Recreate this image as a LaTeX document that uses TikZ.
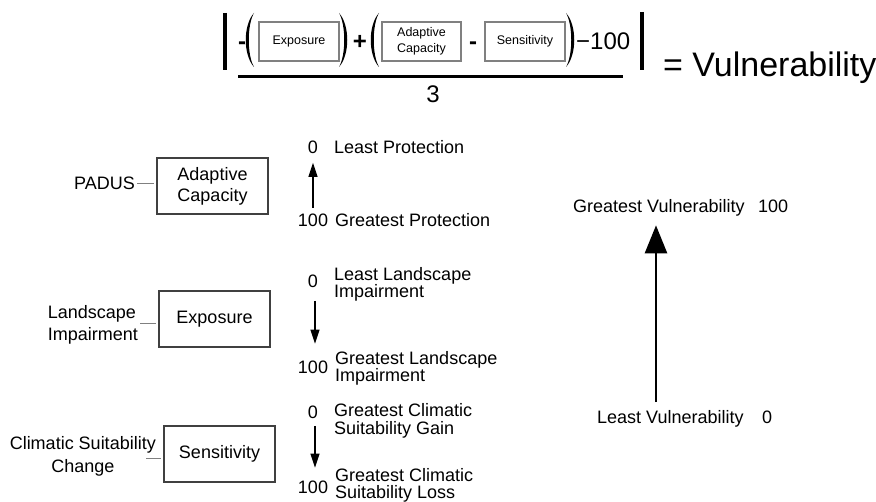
\documentclass[tikz,border=0pt]{standalone}
\usepackage{fontspec}
\setmainfont{Liberation Sans}
\usetikzlibrary{arrows.meta}
\begin{document}
\begin{tikzpicture}[x=1pt,y=-1pt,
  every node/.style={inner sep=0pt},
  lab/.style={font=\fontsize{18}{17.5}\selectfont, anchor=base west},
  num/.style={font=\fontsize{18}{17.5}\selectfont, anchor=base},
  twoline/.style={font=\fontsize{18}{17.5}\selectfont, align=left, anchor=west},
  bigbox/.style={draw=black!75, line width=1.3pt, minimum width=111pt, minimum height=56pt,
    font=\fontsize{18}{21}\selectfont, align=center},
  smallbox/.style={draw=black!50, line width=1.1pt, minimum width=80pt, minimum height=39pt,
    font=\fontsize{12.5}{16}\selectfont, align=center},
  link/.style={draw=black!50, line width=0.9pt},
  arr/.style={-{Triangle[length=14pt,width=9pt]}, line width=1.2pt},
  bigarr/.style={-{Triangle[length=28pt,width=22pt]}, line width=2.6pt},
  op/.style={font=\fontsize{24}{24}\bfseries\selectfont, anchor=base},
  paren/.style={fill=black}
]
\useasboundingbox (0,0) rectangle (876,502);

% ---------- formula ----------
\draw[line width=3.5pt] (225,13) -- (225,70);
\draw[line width=3.5pt] (642,12) -- (642,70);
\draw[line width=3pt] (238,77) -- (623,77);
\node[font=\fontsize{24}{24}\selectfont, anchor=base] (three) at (433,103) {3};

\node[op] (m1) at (242,50) {-};
\node[op] (plus) at (360,50) {+};
\node[op] (m2) at (473,50) {-};
\node[font=\fontsize{24}{24}\selectfont, anchor=base west] (m100) at (576,50) {−100};

\node[smallbox] (fexp) at (299,41.5) {Exposure};
\node[smallbox, minimum width=79pt] (fac) at (421.5,41.5) {Adaptive\\Capacity};
\node[smallbox] (fsens) at (525,41.5) {Sensitivity};

% parentheses
\foreach \xc in {250,375}{
  \fill[paren] (\xc+4,13) .. controls (\xc-7,25) and (\xc-7,55) .. (\xc+4,67)
     .. controls (\xc-3,55) and (\xc-3,25) .. (\xc+4,13) -- cycle;
}
\foreach \xc in {343,570}{
  \fill[paren] (\xc-4,13) .. controls (\xc+7,25) and (\xc+7,55) .. (\xc-4,67)
     .. controls (\xc+3,55) and (\xc+3,25) .. (\xc-4,13) -- cycle;
}

\node[font=\fontsize{34}{34}\selectfont, anchor=base west] (eqv) at (663,77) {= Vulnerability};

% ---------- left boxes ----------
\node[bigbox] (ac) at (212.5,186) {Adaptive\\Capacity};
\node[bigbox] (ex) at (214.5,319) {Exposure};
\node[bigbox] (se) at (219.5,454) {Sensitivity};

\node[font=\fontsize{18}{18}\selectfont, anchor=east] (padus) at (135,183) {PADUS};
\node[font=\fontsize{18}{22}\selectfont, align=left, anchor=east] (li) at (138,325) {Landscape\\Impairment};
\node[font=\fontsize{18}{23}\selectfont, align=center, anchor=east] (cs) at (156,456) {Climatic Suitability\\Change};

\draw[link] ([xshift=2pt]padus.east) -- ([xshift=-2pt]padus.east -| ac.west);
\draw[link] ([shift={(2,-2)}]li.east) -- ([shift={(-2,-2)}]li.east -| ex.west);
\draw[link] ([shift={(-10,2)}]cs.east) -- ([shift={(-2,4)}]se.west);

% ---------- middle scales ----------
\node[num] (p0) at (313,153.4) {0};
\node[lab] (lp) at (334,153.4) {Least Protection};
\node[num] (p100) at (313,226.4) {100};
\node[lab] (gp) at (335,226.4) {Greatest Protection};
\draw[arr, shorten <=6pt, shorten >=9pt] (p100.north) -- (p0.south);

\node[num] (l0) at (313,287.4) {0};
\node[twoline] (lli) at (334,284.4) {Least Landscape\\Impairment};
\node[num] (l100) at (313,373.4) {100};
\node[twoline] (gli) at (335,368.4) {Greatest Landscape\\Impairment};
\draw[arr, shorten <=13pt, shorten >=17pt] ([xshift=2pt]l0.south) -- ([xshift=2pt]l100.north);

\node[num] (c0) at (313,418.4) {0};
\node[twoline] (gcg) at (334,420.6) {Greatest Climatic\\Suitability Gain};
\node[num] (c100) at (313,493.4) {100};
\node[twoline, font=\fontsize{18}{16.5}\selectfont] (gcl) at (335,485.3) {Greatest Climatic\\Suitability Loss};
\draw[arr, shorten <=7pt, shorten >=13pt] ([xshift=2pt]c0.south) -- ([xshift=2pt]c100.north);

% ---------- right scale ----------
\node[lab] (gv) at (573,212.4) {Greatest Vulnerability};
\node[lab] (gv100) at (758,212.4) {100};
\node[lab] (lv) at (597,423.4) {Least Vulnerability};
\node[lab] (lv0) at (762,423.4) {0};
\coordinate (vx) at (656,0);
\draw[bigarr, shorten <=8pt, shorten >=9pt] (vx |- lv.north) -- (vx |- gv.south);
\end{tikzpicture}
\end{document}
